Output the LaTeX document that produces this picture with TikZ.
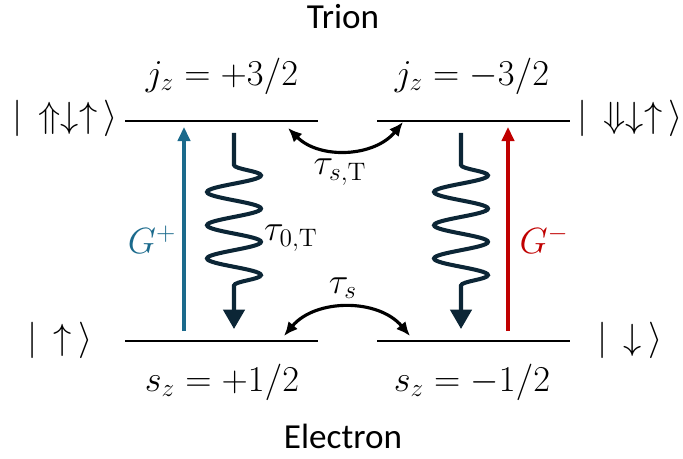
\documentclass[tikz,border=0pt]{standalone}
\usepackage{amsmath}
\usepackage[no-math]{fontspec}
\setmainfont{Carlito}
\usetikzlibrary{arrows.meta,decorations.pathmorphing}
\definecolor{PumpBlue}{HTML}{1B6A8C}
\definecolor{PumpRed}{HTML}{C00000}
\definecolor{DecayNavy}{HTML}{0C2636}

\begin{document}
\begin{tikzpicture}[x=0.02cm,y=-0.02cm,>=Latex,every node/.style={font=\fontsize{20}{24}\selectfont},
  level/.style={line width=1.6pt},
  pump/.style={line width=1.8pt,-{Triangle[length=8pt,width=7pt]}},
  decay/.style={DecayNavy,line width=2.3pt,-{Triangle[length=11pt,width=12pt]},decorate,
    decoration={snake,amplitude=0.54cm,segment length=0.665cm,pre length=0.64cm,post length=0.6cm}},
  flip/.style={line width=1.8pt,{Latex[length=8pt,width=7pt]}-{Latex[length=8pt,width=7pt]}}]
\useasboundingbox(0,0)rectangle(683,459);
% energy levels
\coordinate(T1w)at(125,121);\coordinate(T1e)at(318,121);\coordinate(T2w)at(377,121);\coordinate(T2e)at(570,121);
\coordinate(E1w)at(125,341);\coordinate(E1e)at(318,341);\coordinate(E2w)at(377,341);\coordinate(E2e)at(570,341);
\draw[level](T1w)--(T1e);\draw[level](T2w)--(T2e);\draw[level](E1w)--(E1e);\draw[level](E2w)--(E2e);
\node(trion)at(343,17){Trion};\node(electron)at(343,436){Electron};
\node(jplus)at(222,76){$j_z=+3/2$};\node(jminus)at(472,76){$j_z=-3/2$};
\node(splus)at(222,382){$s_z=+1/2$};\node(sminus)at(472,382){$s_z=-1/2$};
\node(ketTl)at(65,118){$|\,\Uparrow\downarrow\uparrow\,\rangle$};\node(ketTr)at(630,118){$|\,\Downarrow\downarrow\uparrow\,\rangle$};
\node(ketEl)at(60,340){$|\,\uparrow\,\rangle$};\node(ketEr)at(630,340){$|\,\downarrow\,\rangle$};
% optical pumping
\coordinate(Gpb)at(184,331);\coordinate(Gpt)at(184,127);\coordinate(Gmb)at(508,331);\coordinate(Gmt)at(508,127);
\draw[pump,PumpBlue](Gpb)--(Gpt);\draw[pump,PumpRed](Gmb)--(Gmt);
\node[text=PumpBlue](Gp)at(152,240){$G^+$};\node[text=PumpRed](Gm)at(544,240){$G^-$};
% radiative decay
\coordinate(D1t)at(234,133);\coordinate(D1b)at(234,329);\coordinate(D2t)at(461,133);\coordinate(D2b)at(461,329);
\draw[decay](D1t)--(D1b);\draw[decay](D2t)--(D2b);
\node(tau0)at(291,238){$\tau_{0,\mathrm{T}}$};
% spin flips
\coordinate(FTl)at(288,128);\coordinate(FTr)at(403,122);\coordinate(FEl)at(284,336);\coordinate(FEr)at(410,336);
\draw[flip](FTl)to[bend right=48](FTr);\draw[flip](FEl)to[bend left=50](FEr);
\node(tauST)at(340,172){$\tau_{s,\mathrm{T}}$};\node(tauS)at(343,288){$\tau_s$};
\end{tikzpicture}
\end{document}
